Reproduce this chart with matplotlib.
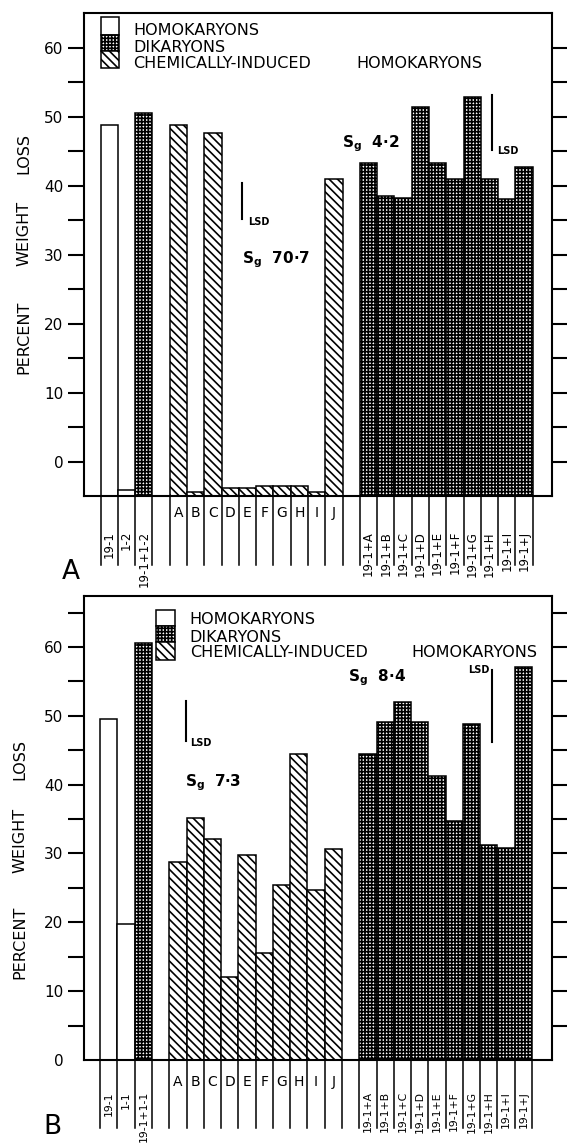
import matplotlib
matplotlib.use('Agg')
import matplotlib.pyplot as plt
from matplotlib.patches import Rectangle
import matplotlib.transforms as mtrans

plt.rcParams['font.family'] = ['DejaVu Sans']
plt.rcParams['hatch.linewidth'] = 1.2
plt.rcParams['hatch.color'] = 'black'

W, H = 567, 1145

# ---------------- data ----------------
induced = ['A', 'B', 'C', 'D', 'E', 'F', 'G', 'H', 'I', 'J']

parents_A = ['19-1', '1-2', '19-1+1-2']
parents_A_values = [48.8, -4.1, 50.6]
induced_A = [48.8, -4.4, 47.6, -3.9, -3.9, -3.6, -3.6, -3.6, -4.4, 41.0]
dikaryons_A_labels = ['19-1+' + c for c in induced]
dikaryons_A = [43.3, 38.5, 38.2, 51.4, 43.3, 41.0, 52.9, 40.9, 38.1, 42.7]

parents_B = ['19-1', '1-1', '19-1+1-1']
parents_B_values = [49.5, 19.8, 60.6]
induced_B = [28.8, 35.2, 32.1, 12.1, 29.8, 15.6, 25.4, 44.4, 24.7, 30.6]
dikaryons_B_labels = ['19-1+' + c for c in induced]
dikaryons_B = [44.4, 49.1, 52.0, 49.1, 41.3, 34.7, 48.8, 31.3, 30.8, 57.1]

parent_kinds = ['homo', 'homo', 'di']

legend_labels = ['HOMOKARYONS', 'DIKARYONS', 'CHEMICALLY-INDUCED', 'HOMOKARYONS']

sg_A = ['70·7', '4·2']
sg_B = ['7·3', '8·4']

# ---------------- styles ----------------
HATCH = {'homo': None, 'di': '+++++', 'chem': '\\\\\\\\'}
EDGE_LW = 1.1

pos_par = [1, 2, 3]
pos_ind = list(range(5, 15))
pos_dik = list(range(16, 26))
edges = [0.5, 1.5, 2.5, 3.5] + [x + 0.5 for x in range(4, 15)] + [x + 0.5 for x in range(15, 26)]

fig = plt.figure(figsize=(W / 100, H / 100), dpi=100)


def px_axes(l, t, r, b):
    return [l / W, 1 - b / H, (r - l) / W, (b - t) / H]


def draw_panel(ax, base, ylim, yticks, par_labels, par_vals, ind_vals, dik_labels, dik_vals,
               below_px, letter_px, rot_px, top_px, bottom_px, rot_fs):
    # bars
    for p, v, k in zip(pos_par, par_vals, parent_kinds):
        ax.bar(p, v - base, bottom=base, width=1.0, color='white', edgecolor='black',
               linewidth=EDGE_LW, hatch=HATCH[k], zorder=2)
    ax.bar(pos_ind, [v - base for v in ind_vals], bottom=base, width=1.0, color='white',
           edgecolor='black', linewidth=EDGE_LW, hatch=HATCH['chem'], zorder=2)
    ax.bar(pos_dik, [v - base for v in dik_vals], bottom=base, width=1.0, color='white',
           edgecolor='black', linewidth=EDGE_LW, hatch=HATCH['di'], zorder=2)

    ax.set_xlim(-0.437, 26.63)
    ax.set_ylim(*ylim)
    ax.set_xticks([])
    ax.set_yticks(yticks)
    ax.set_yticklabels([str(t) if t % 10 == 0 else '' for t in yticks])
    ax.tick_params(axis='y', direction='out', length=11.5, width=1.5, left=True, right=True,
                   labelsize=11, pad=3.5)
    for s in ax.spines.values():
        s.set_linewidth(1.5)

    # separator lines below the axis
    axh = bottom_px - top_px
    blend = mtrans.blended_transform_factory(ax.transData, ax.transAxes)
    yb = -(below_px - bottom_px) / axh
    for e in edges:
        ax.plot([e, e], [0, yb], color='black', lw=EDGE_LW, transform=blend, clip_on=False)
    yl = -(letter_px - bottom_px) / axh
    for p, c in zip(pos_ind, induced):
        ax.text(p, yl, c, transform=blend, ha='center', va='center', fontsize=10)
    yr = -(rot_px - bottom_px) / axh
    for p, lab in zip(pos_par, par_labels):
        ax.text(p, yr, lab, transform=blend, rotation=90, ha='center', va='top', fontsize=rot_fs)
    for p, lab in zip(pos_dik, dik_labels):
        ax.text(p, yr, lab, transform=blend, rotation=90, ha='center', va='top', fontsize=rot_fs)


def draw_legend(ax, x0, w, ys, tx, tys, tx2):
    kinds = ['homo', 'di', 'chem']
    for k, (y0, y1) in zip(kinds, ys):
        ax.add_patch(Rectangle((x0, y0), w, y1 - y0, facecolor='white', edgecolor='black',
                               linewidth=EDGE_LW, hatch=HATCH[k], zorder=3))
    for lab, ty in zip(legend_labels[:3], tys):
        ax.text(tx, ty, lab, ha='left', va='center', fontsize=11.5)
    ax.text(tx2, tys[2], legend_labels[3], ha='left', va='center', fontsize=11.5)


def lsd(ax, x, y0, y1, tx, ty, ha='left'):
    ax.plot([x, x], [y0, y1], color='black', lw=1.5, zorder=3)
    ax.text(tx, ty, 'LSD', fontsize=7, ha=ha, va='center', fontweight='bold')


def sg(ax, x, y, val):
    ax.text(x, y, r'$\mathbf{S}_{\mathbf{g}}$  ' + val, fontsize=11, fontweight='bold',
            ha='left', va='center')


# ---------------- panel A ----------------
axA = fig.add_axes(px_axes(84.3, 13.3, 552.3, 496))
draw_panel(axA, -5, (-5, 65), list(range(0, 61, 5)), parents_A, parents_A_values, induced_A,
           dikaryons_A_labels, dikaryons_A, below_px=565, letter_px=513, rot_px=531,
           top_px=13.3, bottom_px=496, rot_fs=8.5)
draw_legend(axA, 0.53, 1.04, [(61.9, 64.4), (59.5, 61.9), (57.0, 59.5)], 2.41,
            [62.5, 60.1, 57.7], 15.28)
lsd(axA, 8.68, 35.1, 40.4, 9.03, 34.7)
lsd(axA, 23.14, 45.2, 53.1, 23.43, 45.1)
sg(axA, 8.66, 29.3, sg_A[0])
sg(axA, 14.47, 46.1, sg_A[1])

# ---------------- panel B ----------------
axB = fig.add_axes(px_axes(84.0, 596, 551.5, 1060))
draw_panel(axB, 0, (0, 67.4), list(range(0, 66, 5)), parents_B, parents_B_values, induced_B,
           dikaryons_B_labels, dikaryons_B, below_px=1128, letter_px=1082, rot_px=1091,
           top_px=596, bottom_px=1060, rot_fs=7.8)
for t in axB.yaxis.get_major_ticks()[:1]:
    t.tick1line.set_visible(False)
    t.tick2line.set_visible(False)
draw_legend(axB, 3.71, 1.1, [(63.1, 65.4), (60.7, 63.1), (58.1, 60.7)], 5.68,
            [64.0, 61.4, 59.2], 18.49)
lsd(axB, 5.45, 46.4, 52.2, 5.68, 46.0)
lsd(axB, 23.18, 46.2, 56.7, 23.03, 56.6, ha='right')
sg(axB, 5.39, 40.3, sg_B[0])
sg(axB, 14.87, 55.6, sg_B[1])

# ---------------- axis titles and panel letters ----------------
def ftext(x, y, s, **kw):
    fig.text(x / W, 1 - y / H, s, **kw)

for x, ys in [(24, (153.5, 233.5, 337)), (20, (759.5, 840, 942.5))]:
    for word, y in zip(['LOSS', 'WEIGHT', 'PERCENT'], ys):
        ftext(x, y, word, rotation=90, ha='center', va='center', fontsize=11.5)

ftext(71, 572, 'A', ha='center', va='center', fontsize=19)
ftext(52.5, 1127.5, 'B', ha='center', va='center', fontsize=19)

fig.savefig('out.png', dpi=100)
